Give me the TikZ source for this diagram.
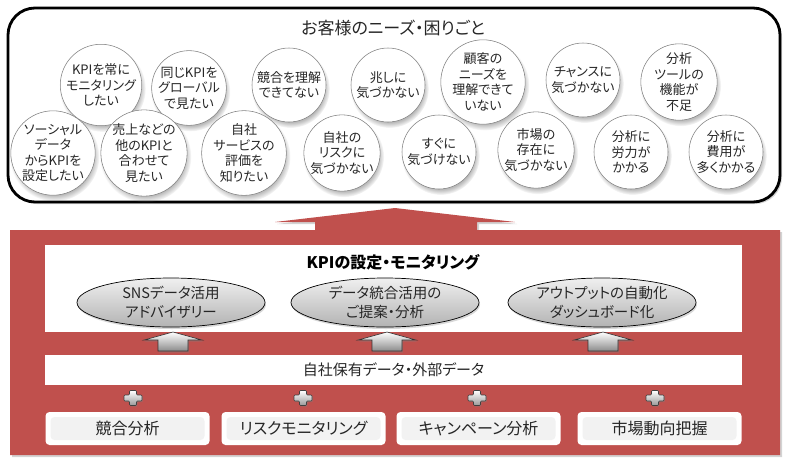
\documentclass[tikz,border=0pt]{standalone}
\usepackage{fontspec}
\setmainfont[RawFeature=+palt]{Noto Sans CJK JP}
\usetikzlibrary{shadows,fadings,shapes.geometric}
\definecolor{kred}{HTML}{C0504D}
\pgfdeclareradialshading{needshade}{\pgfpointorigin}{color(0bp)=(white); color(33bp)=(white); color(50bp)=(black!15); color(100bp)=(black!15)}
\begin{document}
\begin{tikzpicture}[x=1pt,y=-1pt,
  need/.style={circle, minimum size=74pt, inner sep=0pt, draw=black!50, line width=0.55pt,
    shade, shading=needshade,
    circular drop shadow={shadow xshift=1.5pt, shadow yshift=-3.5pt, shadow scale=1.06, opacity=.55},
    align=center, font=\fontsize{13}{15.5}\selectfont, text=black!85},
  oval/.style={ellipse, minimum width=188pt, minimum height=49pt, inner sep=0pt, draw=black, line width=.7pt,
    top color=black!6, bottom color=black!30,
    drop shadow={shadow xshift=1pt, shadow yshift=-2pt, opacity=.3},
    align=center, font=\fontsize{14.5}{18.5}\selectfont, text=black!85},
  whitebar/.style={rectangle, fill=white, inner sep=0pt, minimum width=697pt},
  srcbox/.style={rectangle, rounded corners=4pt, fill=white, minimum width=164pt, minimum height=33pt, inner sep=0pt,
    path picture={\fill[black!5] ([shift={(5pt,5pt)}]path picture bounding box.south west) rectangle ([shift={(-5pt,-5pt)}]path picture bounding box.north east);},
    font=\fontsize{16}{18}\selectfont, text=black!85},
  uparrow/.style={top color=white, bottom color=black!45, draw=black!80, line width=.6pt,
    drop shadow={shadow xshift=1pt, shadow yshift=-1.5pt, opacity=.4}},
  plussign/.style={top color=white, bottom color=black!40, draw=black!75, line width=.6pt, rounded corners=1pt,
    drop shadow={shadow xshift=.8pt, shadow yshift=-1.2pt, opacity=.4}}
]
\useasboundingbox (0,0) rectangle (789,461);
% top box
\node[draw=black, line width=2.8pt, rounded corners=27pt, fill=white, minimum width=772pt, minimum height=194pt, inner sep=0pt,
  drop shadow={shadow xshift=2pt, shadow yshift=-2pt, opacity=.35}] (needs) at (394,105) {};
\node[font=\fontsize{17}{20}\selectfont, text=black!85] (needtitle) at (393,28) {お客様のニーズ・困りごと};
% top row circles
\node[need] (n1) at (101,85) {KPIを常に\\モニタリング\\したい};
\node[need] (n2) at (189,88) {同じKPIを\\グローバル\\で見たい};
\node[need] (n3) at (289,85) {競合を理解\\できてない};
\node[need] (n4) at (388,85) {兆しに\\気づかない};
\node[need] (n5) at (483,82) {顧客の\\ニーズを\\理解できて\\いない};
\node[need] (n6) at (583,80) {チャンスに\\気づかない};
\node[need] (n7) at (679,82) {分析\\ツールの\\機能が\\不足};
% bottom row circles
\node[need] (m1) at (53,153) {ソーシャル\\データ\\からKPIを\\設定したい};
\node[need] (m2) at (144,153) {売上などの\\他のKPIと\\合わせて\\見たい};
\node[need] (m3) at (244,153) {自社\\サービスの\\評価を\\知りたい};
\node[need] (m4) at (342,153) {自社の\\リスクに\\気づかない};
\node[need] (m5) at (439,152) {すぐに\\気づけない};
\node[need] (m6) at (536,150) {市場の\\存在に\\気づかない};
\node[need] (m7) at (631,152) {分析に\\労力が\\かかる};
\node[need] (m8) at (726,152) {分析に\\費用が\\多くかかる};
% big red arrow body
\fill[kred, drop shadow={shadow xshift=2pt, shadow yshift=-2pt, opacity=.35}]
  (10,230) -- (315,230) -- (315,222) -- (275,222) -- (395,208) -- (515,222) -- (477,222) -- (477,230)
  -- (780,230) -- (780,455) -- (10,455) -- cycle;
% service panel
\node[whitebar, minimum height=87pt] (kpibox) at (393.5,288.5) {};
\node[font=\fontsize{16}{18}\selectfont\bfseries] (kpititle) at (393,262) {KPIの設定・モニタリング};
\node[oval] (e1) at (171,302.5) {SNSデータ活用\\アドバイザリー};
\node[oval] (e2) at (385,302.5) {データ統合活用の\\ご提案・分析};
\node[oval] (e3) at (602,302.5) {アウトプットの自動化\\ダッシュボード化};
% small block arrows
\foreach \x in {173,387,603}
  \draw[uparrow] (\x-15,351) -- (\x-15,340) -- (\x-29,340) -- (\x,332) -- (\x+29,340) -- (\x+15,340) -- (\x+15,351) -- cycle;
% data bar
\node[whitebar, minimum height=30pt, font=\fontsize{15}{17}\selectfont, text=black!85] (databar) at (393.5,370) {自社保有データ・外部データ};
% plus signs
\foreach \c in {133,303,477,655}
  \draw[plussign] (\c-3.5,390.5) -- (\c+3.5,390.5) -- (\c+3.5,395) -- (\c+9,395) -- (\c+9,401) -- (\c+3.5,401)
    -- (\c+3.5,405.5) -- (\c-3.5,405.5) -- (\c-3.5,401) -- (\c-9,401) -- (\c-9,395) -- (\c-3.5,395) -- cycle;
% source boxes
\node[srcbox] (b1) at (127.5,428.5) {競合分析};
\node[srcbox] (b2) at (303.5,428.5) {リスクモニタリング};
\node[srcbox] (b3) at (478.5,428.5) {キャンペーン分析};
\node[srcbox] (b4) at (659.5,428.5) {市場動向把握};
\end{tikzpicture}
\end{document}
